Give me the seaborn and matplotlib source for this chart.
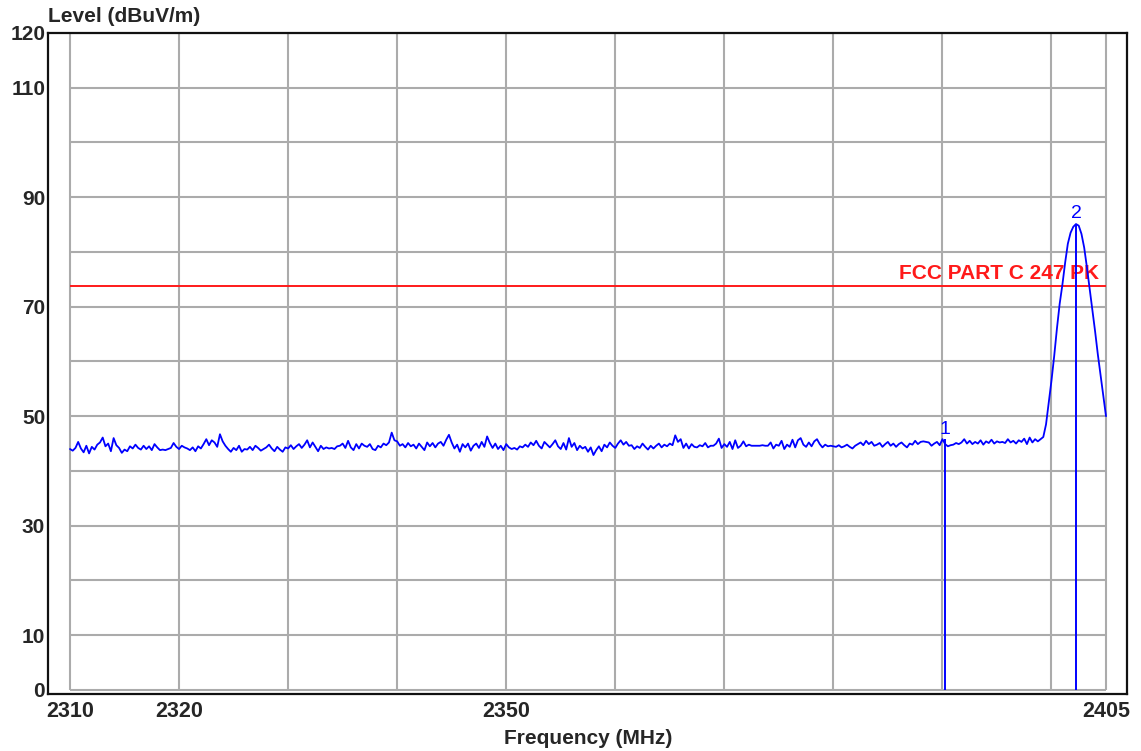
import numpy as np
import matplotlib
matplotlib.use("Agg")
import matplotlib.pyplot as plt
import seaborn as sns

sns.set_style("white")
plt.rcParams["font.family"] = ["Liberation Sans", "DejaVu Sans"]

blue = "#0000FF"
red = "#FF1A1A"
grid_grey = "#ABABAB"

# sweep 2310 .. 2405 MHz, 0.25 MHz step (381 points)
freq_start, freq_stop = 2310, 2405
noise_levels = [
    44.0, 43.7, 44.2, 45.3, 44.1, 43.4, 44.6, 43.2, 44.4, 43.9, 44.8, 45.2, 46.1, 44.5, 45.0, 43.6, 46.0, 44.7, 44.2, 43.3,
    43.9, 43.6, 44.5, 44.1, 44.8, 44.2, 43.9, 44.6, 44.0, 44.5, 43.8, 44.9, 44.3, 43.8, 43.9, 43.8, 44.0, 44.2, 45.1, 44.4,
    44.0, 44.6, 44.3, 44.1, 43.8, 44.3, 43.6, 44.5, 44.1, 44.9, 45.8, 44.7, 45.6, 45.2, 44.4, 46.7, 45.4, 44.6, 44.0, 43.5,
    44.2, 43.8, 44.6, 43.5, 44.0, 43.9, 44.4, 43.8, 44.6, 44.2, 43.7, 44.0, 44.3, 44.8, 44.1, 43.6, 44.4, 43.9, 43.5, 44.3,
    44.1, 44.7, 44.0, 44.5, 44.9, 44.2, 44.8, 45.6, 44.3, 45.2, 44.4, 43.6, 44.6, 44.0, 44.3, 44.1, 44.2, 44.0, 44.5, 44.6,
    45.0, 44.2, 45.5, 44.3, 43.8, 44.9, 44.1, 45.0, 44.6, 44.4, 44.9, 44.0, 43.8, 44.6, 44.3, 45.0, 44.7, 45.2, 47.0, 45.6,
    45.4, 44.6, 44.9, 44.3, 45.1, 44.5, 44.8, 44.1, 45.0, 44.4, 43.8, 45.2, 44.5, 45.1, 44.3, 45.0, 45.3, 44.6, 45.7, 46.6,
    45.2, 44.1, 44.8, 43.5, 44.9, 44.3, 45.0, 43.7, 44.6, 45.0, 44.2, 45.3, 44.4, 46.3, 45.1, 44.2, 45.0, 44.0, 44.6, 43.8,
    44.9, 44.3, 44.0, 44.2, 43.9, 44.5, 44.3, 44.8, 44.4, 45.2, 44.7, 45.5, 44.6, 44.1, 45.3, 44.8, 44.3, 44.9, 45.6, 44.5,
    44.0, 45.1, 43.9, 46.0, 44.4, 45.1, 43.8, 44.6, 44.1, 44.4, 43.5, 44.3, 42.9, 43.8, 44.5, 43.6, 44.8, 44.3, 45.2, 44.6,
    44.2, 45.0, 45.6, 44.8, 45.3, 44.6, 44.7, 44.0, 44.5, 44.2, 45.0, 44.4, 43.9, 44.6, 44.1, 44.6, 45.0, 44.3, 44.8, 44.5,
    45.0, 44.7, 46.5, 45.3, 45.8, 44.2, 45.0, 44.1, 44.9, 44.4, 44.3, 44.7, 44.5, 45.1, 44.3, 44.6, 44.6, 45.0, 45.9, 44.2,
    44.9, 44.4, 45.3, 44.0, 45.6, 44.2, 44.6, 45.4, 44.5, 44.8, 44.6, 44.6, 44.6, 44.6, 44.7, 44.6, 44.6, 45.2, 44.1, 44.8,
    44.6, 45.5, 44.0, 44.8, 44.4, 45.7, 44.3, 45.6, 46.0, 44.8, 44.4, 45.2, 44.5, 45.4, 45.8, 44.9, 44.3, 44.8, 44.5, 44.6,
    44.5, 44.4, 44.7, 44.3, 44.5, 44.8, 44.4, 44.1, 44.6, 44.9, 45.2, 44.7, 45.5, 44.9, 45.3, 44.6, 44.8, 45.1, 44.4, 44.9,
    45.3, 44.6, 45.0, 44.4, 44.9, 45.2, 44.7, 44.3, 45.0, 44.8, 45.5, 44.9, 45.3, 45.4, 45.3, 45.2, 44.6, 45.0, 45.3, 44.7,
    45.8, 44.9, 44.5, 44.7, 44.8, 45.1, 44.9, 45.2, 45.8, 45.0, 45.5, 44.9, 45.3, 45.0, 45.6, 44.8, 45.4, 45.1, 45.7, 45.0,
    45.4, 45.2, 45.3, 45.1, 45.8, 45.2, 45.5, 45.0, 45.6, 45.3, 45.9, 44.9, 46.1, 45.2, 45.8, 45.4,
]
peak_levels = [
    45.8, 46.2, 48.5, 52.5, 56.5, 61.0, 66.0, 70.5, 74.0, 78.0, 81.5, 83.5, 84.6,
    85.1, 84.8, 83.3, 80.8, 77.2, 73.3, 69.5, 65.5, 61.3, 57.5, 53.8, 50.0,
]
levels = noise_levels + peak_levels
freqs = np.linspace(freq_start, freq_stop, len(levels))

limit_level = 73.7
limit_label = "FCC PART C 247 PK"

marker_freqs = [2390.2, 2402.25]
marker_levels = [45.8, 85.1]
marker_names = ["1", "2"]

x_ticks = [2310, 2320, 2350, 2405]
y_ticks = [0, 10, 30, 50, 70, 90, 110, 120]
x_grid = [2310, 2320, 2330, 2340, 2350, 2360, 2370, 2380, 2390, 2400, 2405]
y_grid = [0, 10, 20, 30, 40, 50, 60, 70, 80, 90, 100, 110, 120]

fig = plt.figure(figsize=(11.41, 7.51), dpi=100)
ax = fig.add_axes([48 / 1141, 1 - 694 / 751, (1127 - 48) / 1141, (694 - 33) / 751])

# grid, limited to the data area
ax.hlines(y_grid, freq_start, freq_stop, color=grid_grey, lw=1.5, zorder=1)
ax.vlines(x_grid, 0, 120, color=grid_grey, lw=1.5, zorder=1)

# limit line
ax.hlines(limit_level, freq_start, freq_stop, color=red, lw=1.4, zorder=2)
ax.text(2404.4, limit_level + 0.6, limit_label, color=red, fontsize=15,
        fontweight="bold", ha="right", va="bottom", zorder=3)

# trace
sns.lineplot(x=freqs, y=levels, ax=ax, color=blue, lw=1.3, zorder=4)

# markers
for f, lv, name in zip(marker_freqs, marker_levels, marker_names):
    ax.vlines(f, 0, lv, color=blue, lw=1.4, zorder=5)
    ax.text(f, lv + 0.3, name, color=blue, fontsize=14, ha="center", va="bottom", zorder=5)

ax.set_xlim(freq_start - 22 / 10.905, freq_stop + 21 / 10.905)
ax.set_ylim(-0.75, 120)

ax.set_xticks(x_ticks)
ax.set_xticklabels([str(t) for t in x_ticks], fontsize=15.5, fontweight="bold")
ax.set_yticks(y_ticks)
ax.set_yticklabels([str(t) for t in y_ticks], fontsize=15, fontweight="bold")
ax.tick_params(axis="both", length=0)
ax.tick_params(axis="x", pad=5)
ax.tick_params(axis="y", pad=2)

for side in ["left", "bottom", "top", "right"]:
    ax.spines[side].set_visible(True)
    ax.spines[side].set_color("#111111")
    ax.spines[side].set_linewidth(1.6)

ax.set_xlabel("")
ax.set_ylabel("")
fig.text(48 / 1141, 1 - 17 / 751, "Level (dBuV/m)", fontsize=15, fontweight="bold",
         ha="left", va="center")
fig.text(588 / 1141, 1 - 738 / 751, "Frequency (MHz)", fontsize=15, fontweight="bold",
         ha="center", va="center")

fig.savefig("out.png", dpi=100)
